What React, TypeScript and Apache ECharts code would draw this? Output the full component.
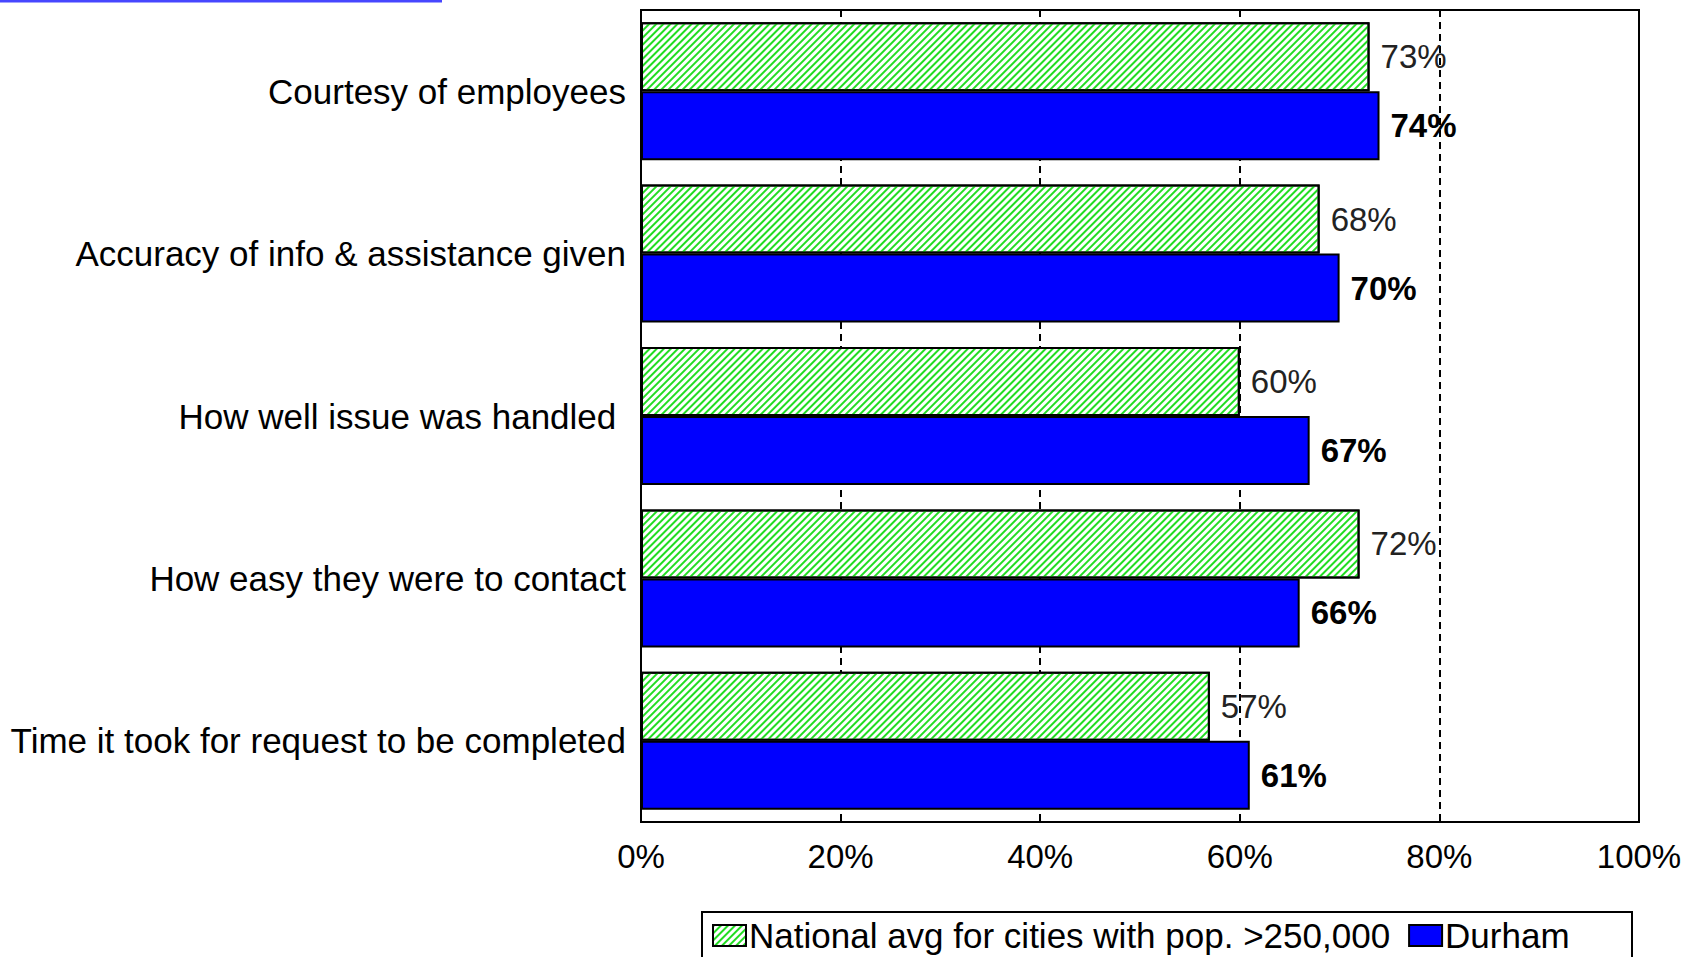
import React, { useEffect, useRef } from "react";
import * as echarts from "echarts";

const categories = [
  "Courtesy of employees",
  "Accuracy of info & assistance given",
  "How well issue was handled ",
  "How easy they were to contact",
  "Time it took for request to be completed",
];
const nationalAvg = [73, 68, 60, 72, 57];
const durham = [74, 70, 67, 66, 61];
const seriesNames = ["National avg for cities with pop. >250,000", "Durham"];
const xTicks = { min: 0, max: 100, interval: 20 };

const FONT = "'Liberation Sans', Arial, sans-serif";
const FS = 33;
const FS_CAT = 35;

export default function App() {
  const ref = useRef<HTMLDivElement>(null);
  useEffect(() => {
    if (!ref.current) return;
    const chart = echarts.init(ref.current, null, { renderer: "svg" });
    chart.setOption({
      animation: false,
      backgroundColor: "#ffffff",
      textStyle: { fontFamily: FONT },
      grid: {
        left: 641,
        top: 10,
        width: 998,
        height: 812,
        show: true,
        borderColor: "#000",
        borderWidth: 2,
        containLabel: false,
      },
      xAxis: {
        type: "value",
        min: xTicks.min,
        max: xTicks.max,
        interval: xTicks.interval,
        axisLine: { show: true, lineStyle: { color: "#000", width: 2 } },
        axisTick: { show: true, inside: true, length: 8, lineStyle: { color: "#000", width: 2 } },
        axisLabel: {
          formatter: "{value}%",
          color: "#000",
          fontSize: FS,
          fontFamily: FONT,
          margin: 18,
        },
        splitLine: {
          show: true,
          lineStyle: { color: "#000", width: 2, type: [7, 5] },
        },
      },
      yAxis: {
        type: "category",
        data: categories,
        inverse: true,
        axisLine: { show: true, lineStyle: { color: "#000", width: 2 } },
        axisTick: { show: false },
        axisLabel: {
          color: "#000",
          fontSize: FS_CAT,
          fontFamily: FONT,
          margin: 15,
        },
      },
      legend: {
        left: 712,
        top: 918,
        padding: 0,
        itemGap: 18,
        itemWidth: 33,
        itemHeight: 21,
        icon: "rect",
        textStyle: { color: "#000", fontSize: FS_CAT, fontFamily: FONT, padding: [0, 0, 0, -2] },
        itemStyle: { borderColor: "#000", borderWidth: 2 },
        data: seriesNames,
      },
      graphic: [
        {
          type: "line",
          shape: { x1: 0, y1: 1, x2: 442, y2: 1 },
          style: { stroke: "#4646ff", lineWidth: 3 },
        },
        {
          type: "rect",
          shape: { x: 702, y: 912, width: 930, height: 70 },
          style: { fill: "none", stroke: "#000", lineWidth: 2 },
          z: 10,
        },
      ],
      series: [
        {
          name: seriesNames[0],
          type: "bar",
          data: nationalAvg,
          barGap: "0%",
          barCategoryGap: "15%",
          itemStyle: {
            color: "#ffffff",
            borderColor: "#000",
            borderWidth: 2,
            decal: {
              symbol: "rect",
              symbolSize: 1,
              color: "#22dd22",
              dashArrayX: [1, 0],
              dashArrayY: [2, 3],
              rotation: -Math.PI / 4,
            },
          },
          label: {
            show: true,
            position: "right",
            distance: 11,
            formatter: "{c}%",
            color: "#222",
            fontSize: FS,
            fontFamily: FONT,
          },
        },
        {
          name: seriesNames[1],
          type: "bar",
          data: durham,
          barGap: "0%",
          barCategoryGap: "15%",
          itemStyle: { color: "#0000ff", borderColor: "#000", borderWidth: 2 },
          label: {
            show: true,
            position: "right",
            distance: 11,
            formatter: "{c}%",
            color: "#000",
            fontWeight: "bold",
            fontSize: FS,
            fontFamily: FONT,
          },
        },
      ],
    });
    return () => chart.dispose();
  }, []);
  return (
    <div
      ref={ref}
      style={{ position: "fixed", left: 0, top: 0, width: 1692, height: 957 }}
    />
  );
}
